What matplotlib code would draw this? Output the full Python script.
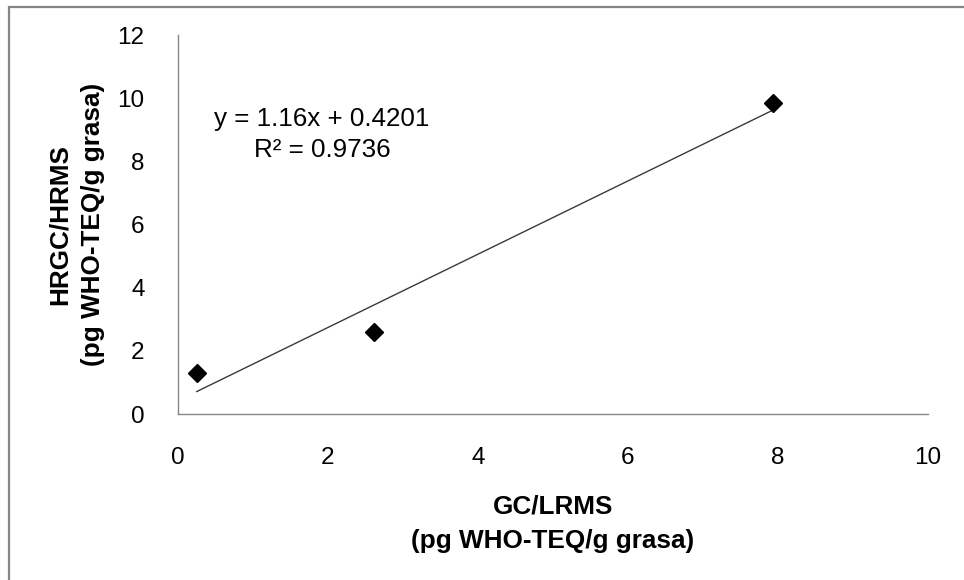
import numpy as np
import matplotlib
matplotlib.use('Agg')
import matplotlib.pyplot as plt
from matplotlib.patches import Rectangle

plt.rcParams['font.family'] = ['Liberation Sans', 'DejaVu Sans']

# GC/LRMS vs HRGC/HRMS (pg WHO-TEQ/g grasa)
gc_lrms = [0.25, 2.62, 7.93]
hrgc_hrms = [1.3, 2.6, 9.84]

# linear trend from the fitted equation
slope = 1.16
intercept = 0.4201
r2 = 0.9736

xticks = [0, 2, 4, 6, 8, 10]
yticks = [0, 2, 4, 6, 8, 10, 12]

fig = plt.figure(figsize=(9.64, 5.80), dpi=100)
ax = fig.add_axes([0.1846, 0.2862, 0.7780, 0.6534])

# outer chart frame (only top and left edges inside the image)
fig.patches.append(Rectangle((9/964, -0.1), 1.2, 0.1 + 1 - 7/580,
                             transform=fig.transFigure, fill=False,
                             edgecolor='#868686', linewidth=1.6))

xfit = np.array([min(gc_lrms), max(gc_lrms)])
ax.plot(xfit, slope*xfit + intercept, color='#3a3a3a', linewidth=1.0, zorder=2)
ax.plot(gc_lrms, hrgc_hrms, linestyle='none', marker='D', markersize=9.3,
        color='black', zorder=3)

ax.text(1.92, 8.86, 'y = %.2fx + %.4f\nR² = %.4f' % (slope, intercept, r2),
        ha='center', va='center', multialignment='center', fontsize=18.7,
        linespacing=1.36)

ax.set_xlim(0, 10)
ax.set_ylim(0, 12)
ax.set_xticks(xticks)
ax.set_yticks(yticks)
ax.tick_params(length=0, labelsize=17.5)
ax.tick_params(axis='x', pad=24)
ax.tick_params(axis='y', pad=24)

for side in ['top', 'right']:
    ax.spines[side].set_visible(False)
for side in ['left', 'bottom']:
    ax.spines[side].set_color('#868686')
    ax.spines[side].set_linewidth(1.0)

ax.set_xlabel('GC/LRMS\n(pg WHO-TEQ/g grasa)', fontsize=18.8, fontweight='bold',
              linespacing=1.53)
ax.set_ylabel('HRGC/HRMS\n(pg WHO-TEQ/g grasa)', fontsize=18.8, fontweight='bold',
              linespacing=1.45)
ax.xaxis.label.set_va('center')
ax.yaxis.label.set_va('center')
ax.xaxis.set_label_coords(0.5, -0.289)
ax.yaxis.set_label_coords(-0.1353, 0.5)

fig.savefig('out.png', dpi=100)
